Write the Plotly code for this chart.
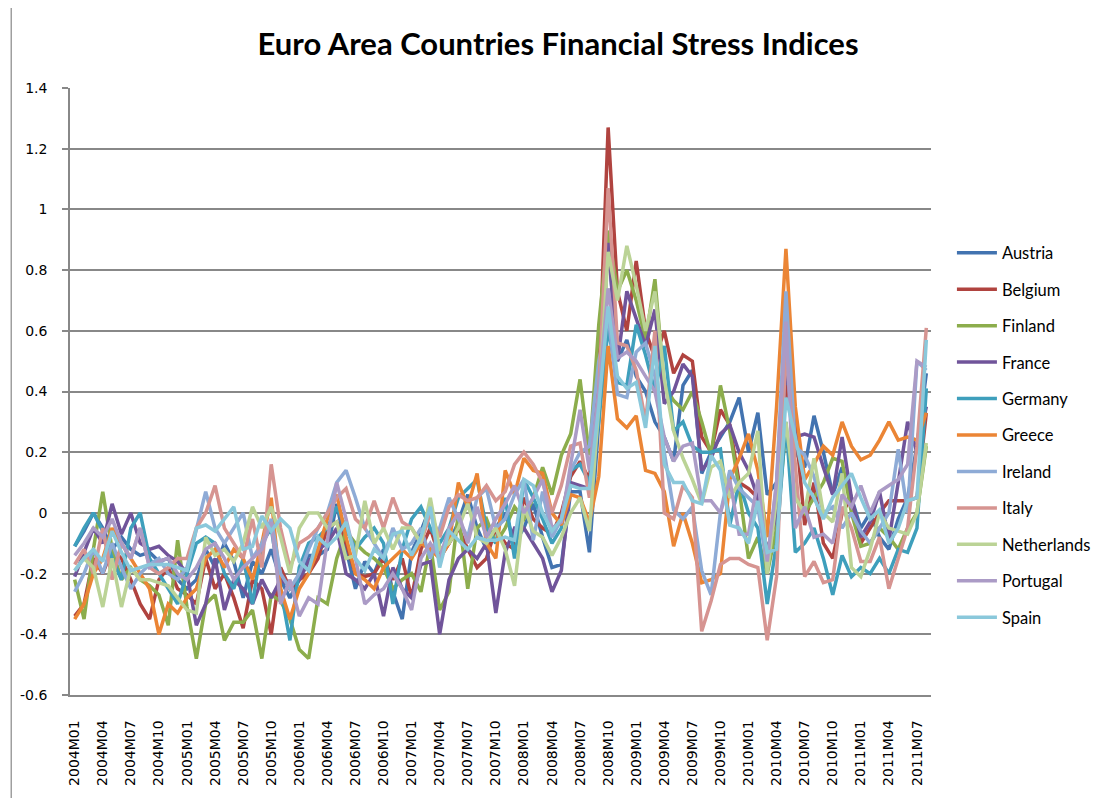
import plotly.graph_objects as go

months = [f"{y}M{m:02d}" for y in range(2004, 2012) for m in range(1, 13)][:92]
tick_labels = months[::3]

countries = ["Austria", "Belgium", "Finland", "France", "Germany", "Greece",
             "Ireland", "Italy", "Netherlands", "Portugal", "Spain"]

austria = [-0.11,-0.06,0.00,-0.05,-0.12,-0.08,-0.12,-0.14,-0.13,-0.16,-0.15,-0.22,
           -0.25,-0.22,-0.12,-0.18,-0.10,-0.16,-0.28,-0.16,-0.20,-0.12,-0.22,-0.28,
           -0.22,-0.14,-0.14,-0.12,0.03,-0.12,-0.25,-0.16,-0.20,-0.12,-0.26,-0.35,
           -0.13,-0.06,0.02,-0.12,-0.10,-0.03,0.06,-0.05,-0.12,-0.05,0.00,-0.10,
           -0.05,0.03,-0.08,-0.18,-0.17,0.07,0.07,-0.13,0.30,0.90,0.50,0.57,
           0.45,0.40,0.30,0.25,0.17,0.42,0.47,0.13,0.20,0.25,0.30,0.38,
           0.20,0.33,0.06,0.10,0.45,0.20,0.15,0.32,0.20,0.06,0.15,0.05,
           -0.05,0.00,-0.08,-0.12,-0.02,0.05,0.22,0.46]
belgium = [-0.34,-0.30,-0.15,-0.20,-0.12,-0.15,-0.22,-0.30,-0.35,-0.22,-0.18,-0.25,
           -0.27,-0.30,-0.15,-0.25,-0.20,-0.28,-0.38,-0.22,-0.25,-0.40,-0.18,-0.25,
           -0.22,-0.20,-0.15,-0.05,-0.03,-0.10,-0.20,-0.21,-0.20,-0.15,-0.22,-0.15,
           -0.28,-0.12,-0.05,-0.15,-0.10,-0.05,-0.12,-0.18,-0.15,-0.05,-0.10,-0.12,
           0.05,-0.02,-0.05,-0.07,0.00,0.12,0.17,0.11,0.45,1.27,0.73,0.60,
           0.83,0.60,0.51,0.60,0.46,0.52,0.50,0.25,0.20,0.34,0.29,0.10,
           0.08,0.05,-0.13,0.00,0.42,0.30,-0.04,0.10,-0.10,-0.15,0.00,0.05,
           -0.10,-0.05,0.00,0.04,0.04,0.04,0.05,0.33]
finland = [-0.22,-0.35,-0.12,0.07,-0.12,-0.22,-0.18,-0.22,-0.24,-0.27,-0.37,-0.09,
           -0.31,-0.48,-0.30,-0.27,-0.42,-0.36,-0.36,-0.32,-0.48,-0.27,-0.29,-0.35,
           -0.45,-0.48,-0.28,-0.30,-0.15,-0.06,-0.10,-0.13,-0.15,-0.18,-0.25,-0.22,
           -0.20,-0.26,-0.10,-0.32,-0.26,0.00,-0.25,-0.05,-0.02,-0.10,-0.05,0.02,
           -0.02,0.05,0.15,0.06,0.19,0.26,0.44,0.19,0.62,0.93,0.73,0.80,
           0.70,0.57,0.77,0.42,0.37,0.34,0.40,0.30,0.19,0.42,0.27,0.08,
           -0.15,-0.08,-0.20,-0.05,0.28,0.05,0.00,0.05,0.10,0.18,0.17,0.00,
           -0.11,-0.10,-0.05,-0.08,-0.12,-0.05,0.00,0.22]
france = [-0.21,-0.13,-0.05,-0.10,0.03,-0.07,0.00,-0.10,-0.12,-0.11,-0.14,-0.16,
          -0.20,-0.37,-0.30,-0.15,-0.32,-0.22,-0.25,-0.30,-0.22,-0.28,-0.22,-0.24,
          -0.22,-0.16,-0.12,-0.10,-0.05,-0.20,-0.22,-0.25,-0.20,-0.34,-0.18,-0.25,
          -0.28,-0.17,-0.16,-0.40,-0.22,-0.15,-0.12,-0.15,-0.10,-0.33,-0.13,-0.05,
          -0.05,-0.10,-0.15,-0.26,-0.19,0.10,0.09,0.08,0.40,0.89,0.50,0.73,
          0.64,0.55,0.67,0.36,0.40,0.49,0.45,0.14,0.18,0.26,0.29,0.20,
          0.14,0.05,-0.13,0.00,0.49,0.25,0.26,0.25,0.15,0.06,0.25,0.05,
          -0.08,-0.03,0.07,-0.09,0.10,0.30,0.20,0.35]
germany = [-0.11,-0.05,0.00,-0.06,-0.15,-0.22,-0.05,0.00,-0.15,-0.20,-0.25,-0.30,
           -0.20,-0.10,-0.08,-0.10,-0.20,-0.25,-0.15,-0.30,-0.10,-0.05,-0.25,-0.42,
           -0.18,-0.10,-0.08,-0.05,0.02,-0.05,-0.12,-0.08,-0.05,-0.10,-0.30,-0.12,
           -0.02,0.02,-0.05,-0.10,-0.05,0.05,0.08,0.11,-0.05,-0.10,0.05,-0.15,
           0.11,0.05,-0.02,-0.10,-0.05,0.14,0.16,0.10,0.30,0.61,0.43,0.42,
           0.62,0.52,0.40,0.55,0.27,0.30,0.22,0.20,0.20,0.21,-0.04,0.10,
           0.00,-0.05,-0.30,-0.10,0.30,-0.13,-0.10,-0.05,-0.15,-0.27,-0.14,-0.21,
           -0.18,-0.20,-0.15,-0.20,-0.12,-0.13,-0.05,0.41]
greece = [-0.35,-0.30,-0.20,-0.15,-0.05,-0.10,-0.15,-0.20,-0.25,-0.40,-0.30,-0.33,
          -0.28,-0.25,-0.15,-0.12,-0.18,-0.12,-0.15,-0.22,-0.10,0.05,-0.25,-0.35,
          -0.25,-0.20,-0.12,-0.02,0.06,-0.08,-0.20,-0.22,-0.25,-0.18,-0.15,-0.12,
          -0.15,-0.10,-0.12,-0.15,-0.10,0.10,0.02,0.13,-0.10,-0.15,0.14,0.06,
          0.18,0.14,0.13,0.00,-0.04,0.06,0.05,-0.03,0.12,0.55,0.31,0.28,
          0.32,0.14,0.13,0.07,-0.11,0.00,-0.10,-0.23,-0.22,-0.20,0.11,0.18,
          0.26,0.14,-0.08,0.35,0.87,0.35,0.11,0.16,0.22,0.19,0.30,0.22,
          0.175,0.19,0.24,0.30,0.24,0.25,0.24,0.33]
ireland = [-0.26,-0.20,-0.12,-0.20,-0.10,-0.18,-0.25,-0.20,-0.17,-0.15,-0.20,-0.22,
           -0.18,-0.05,0.07,-0.05,-0.10,-0.05,0.00,-0.15,-0.10,-0.02,-0.20,-0.25,
           -0.20,-0.12,-0.05,0.00,0.10,0.14,0.05,-0.05,-0.10,-0.15,-0.05,-0.12,
           -0.10,-0.05,-0.15,-0.05,0.05,-0.02,-0.08,0.05,0.08,-0.05,-0.02,0.06,
           0.11,-0.09,0.07,-0.08,-0.02,0.14,0.20,0.22,0.50,0.65,0.39,0.38,
           0.53,0.56,0.45,0.20,0.01,-0.02,0.02,-0.19,-0.27,0.00,0.14,0.08,
           0.05,0.02,-0.18,0.10,0.73,0.22,0.19,0.12,0.00,0.02,-0.05,0.00,
           -0.06,-0.10,-0.05,0.00,0.21,0.00,0.50,0.47]
italy = [-0.17,-0.12,-0.20,-0.05,-0.22,-0.10,-0.15,-0.05,-0.18,-0.20,-0.18,-0.15,
         -0.15,-0.05,0.00,0.09,-0.05,-0.10,-0.15,-0.02,-0.18,0.16,-0.05,-0.18,
         -0.10,-0.08,-0.05,0.00,0.05,0.08,-0.02,-0.05,0.04,-0.05,0.05,-0.03,
         -0.05,-0.10,0.00,-0.08,0.02,0.06,0.04,0.05,0.09,0.04,0.07,0.16,
         0.20,0.16,0.10,0.00,0.09,0.22,0.23,0.05,0.40,1.07,0.56,0.55,
         0.47,0.30,0.60,0.00,-0.02,0.09,0.05,-0.39,-0.29,-0.17,-0.15,-0.15,
         -0.17,-0.18,-0.42,-0.21,0.55,0.16,-0.21,-0.16,-0.23,-0.22,0.02,-0.05,
         -0.16,-0.16,-0.08,-0.25,-0.15,-0.05,0.22,0.61]
netherlands = [-0.19,-0.15,-0.18,-0.31,-0.15,-0.31,-0.18,-0.22,-0.22,-0.23,-0.24,-0.28,
               -0.32,-0.33,-0.08,-0.14,-0.12,-0.16,-0.10,0.02,-0.05,0.02,-0.08,-0.20,
               -0.05,0.00,0.00,-0.05,-0.03,-0.15,-0.14,0.04,-0.10,-0.05,-0.12,-0.05,
               -0.05,-0.10,0.05,-0.12,-0.10,-0.05,0.03,-0.08,-0.10,-0.05,-0.12,-0.24,
               0.02,-0.06,-0.08,-0.14,-0.08,0.00,0.05,-0.06,0.35,0.86,0.70,0.88,
               0.75,0.60,0.73,0.44,0.27,0.18,0.11,0.03,0.15,0.17,0.05,0.10,
               0.13,0.27,-0.20,0.05,0.30,0.05,0.00,0.18,0.00,-0.03,0.13,-0.18,
               -0.21,-0.12,0.00,-0.05,-0.06,-0.07,0.00,0.23]
portugal = [-0.14,-0.10,-0.05,-0.08,-0.02,-0.10,-0.15,-0.05,-0.18,-0.16,-0.15,-0.20,
            -0.22,-0.18,-0.12,-0.10,-0.15,-0.22,-0.18,-0.15,-0.12,-0.03,-0.30,-0.22,
            -0.34,-0.28,-0.30,-0.09,0.10,-0.02,-0.15,-0.30,-0.27,-0.25,-0.20,-0.25,
            -0.32,-0.15,-0.10,-0.15,-0.05,0.00,-0.10,0.02,-0.08,-0.02,0.03,0.09,
            0.00,0.05,0.11,-0.05,-0.03,0.16,0.34,0.14,0.40,0.74,0.51,0.53,
            0.50,0.45,0.40,0.25,0.17,0.22,0.23,0.04,0.04,0.00,0.11,-0.07,
            -0.07,0.11,-0.16,0.10,0.63,-0.05,0.02,-0.08,-0.07,-0.10,0.06,0.02,
            0.09,0.00,0.07,0.09,0.11,0.16,0.50,0.48]
spain = [-0.19,-0.15,-0.12,-0.16,-0.06,-0.13,-0.19,-0.18,-0.17,-0.17,-0.17,-0.18,
         -0.19,-0.05,-0.04,-0.06,-0.02,0.02,-0.12,-0.11,-0.01,-0.06,-0.02,-0.05,
         -0.16,-0.19,-0.08,-0.11,-0.08,-0.03,-0.15,-0.19,-0.12,-0.15,-0.07,-0.06,
         -0.14,-0.08,0.02,-0.18,-0.06,-0.09,-0.12,-0.08,-0.09,-0.09,-0.08,-0.09,
         0.11,0.09,0.00,-0.06,-0.02,0.09,0.08,0.08,0.35,0.68,0.45,0.41,
         0.43,0.28,0.55,0.16,0.10,0.10,0.04,0.03,0.19,0.14,-0.04,-0.05,
         -0.10,0.04,-0.13,-0.12,0.38,0.25,0.10,0.05,-0.02,0.05,0.09,0.13,
         0.05,-0.02,0.01,-0.10,-0.05,0.04,0.05,0.57]

series = [austria, belgium, finland, france, germany, greece,
          ireland, italy, netherlands, portugal, spain]
colors = ["#4273B0", "#B0433F", "#8CAD4C", "#70549A", "#3E9FBC", "#EB8535",
          "#8EABD6", "#D69491", "#BBD396", "#AB9BC6", "#8AC8DB"]

y_ticks = [-0.6, -0.4, -0.2, 0, 0.2, 0.4, 0.6, 0.8, 1, 1.2, 1.4]
y_tick_text = ["-0.6", "-0.4", "-0.2", "0", "0.2", "0.4", "0.6", "0.8", "1", "1.2", "1.4"]

fig = go.Figure()
for name, vals, col in zip(countries, series, colors):
    fig.add_trace(go.Scatter(x=months, y=vals, mode="lines", name=name,
                             legendgroup=name,
                             line=dict(color=col, width=3.5)))

# page body has an 8px margin; figure sized so the plot lands where the reference has it
W, H = 1100, 790
L, R, T, B = 59, 177, 80, 101
pw, ph = W - L - R, H - T - B
grid_col = "#888888"

fig.update_layout(
    width=W, height=H,
    margin=dict(l=L, r=R, t=T, b=B, pad=0),
    paper_bgcolor="white", plot_bgcolor="white",
    title=dict(text="<b>Euro Area Countries Financial Stress Indices</b>",
               x=550 / W, xanchor="center", y=1 - 36 / H, yanchor="middle",
               font=dict(family="Lato, Open Sans, sans-serif", size=31, color="black")),
    showlegend=True,
    legend=dict(x=(944 - L) / pw, xanchor="left", y=1 - (228 - T) / ph, yanchor="top",
                font=dict(family="Lato, Open Sans, sans-serif", size=16.5, color="black"),
                tracegroupgap=12, itemwidth=40, bgcolor="rgba(0,0,0,0)"),
    xaxis=dict(type="category", range=[-0.5, 91.5], tickmode="array",
               tickvals=tick_labels, ticktext=tick_labels, tickangle=-90,
               showgrid=False, showline=True, linecolor=grid_col, linewidth=1.6,
               ticks="", ticklabelstandoff=18,
               tickfont=dict(family="DejaVu Sans", size=14, color="black")),
    yaxis=dict(range=[-0.6, 1.4], tickmode="array", tickvals=y_ticks, ticktext=y_tick_text,
               showgrid=True, gridcolor=grid_col, gridwidth=1.6,
               showline=True, linecolor=grid_col, linewidth=1.6,
               ticks="outside", ticklen=6, tickcolor=grid_col, tickwidth=1.6,
               ticklabelstandoff=12, zeroline=False,
               tickfont=dict(family="DejaVu Sans", size=14, color="black")),
    shapes=[dict(type="line", xref="paper", yref="paper",
                 x0=-L / pw, x1=-L / pw, y0=(H - B) / ph + 0.02, y1=-B / ph - 0.02,
                 line=dict(color=grid_col, width=1.2))],
)

fig.write_html("out.html")
